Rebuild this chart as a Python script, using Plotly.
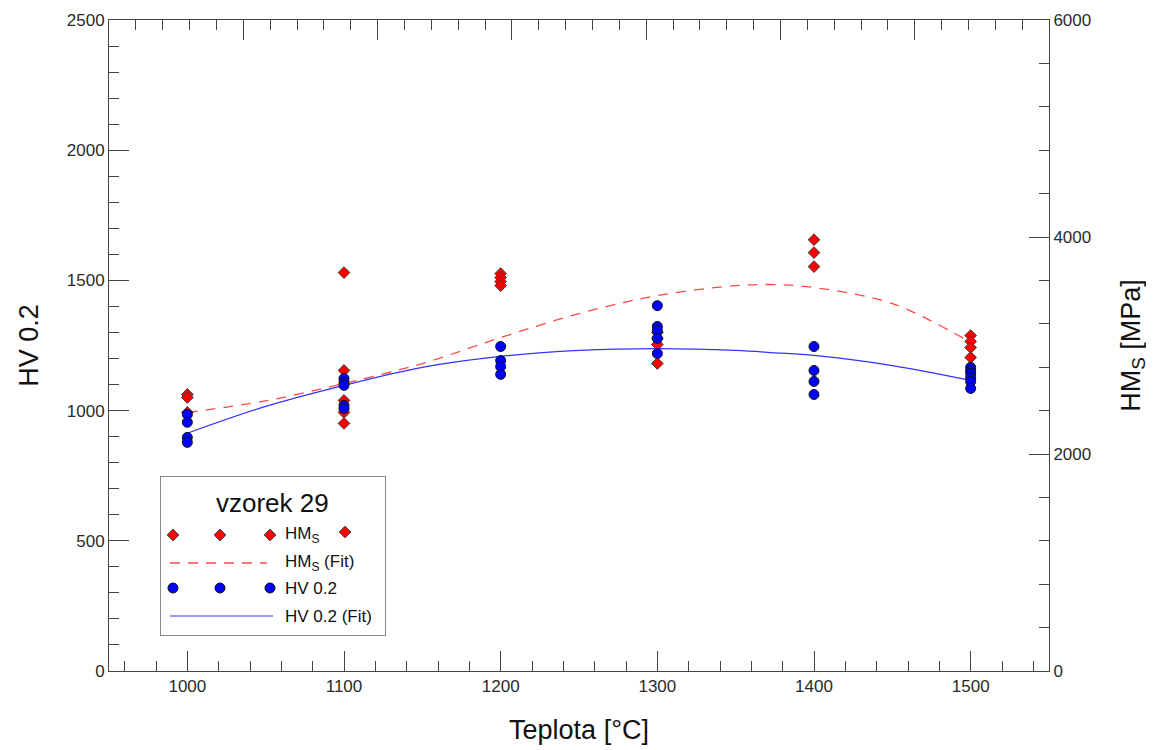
import plotly.graph_objects as go

# HMs measurements [MPa] (right axis)
hms_temp = [1000, 1000, 1000,
            1100, 1100, 1100, 1100, 1100,
            1200, 1200, 1200, 1200,
            1300, 1300, 1300, 1300,
            1400, 1400, 1400,
            1500, 1500, 1500, 1500]
hms_val = [2549, 2521, 2383,
           3672, 2770, 2494, 2383, 2282,
           3662, 3626, 3589, 3552,
           3120, 3064, 3009, 2834,
           3975, 3856, 3727,
           3092, 3037, 2981, 2890]

# HV 0.2 measurements (left axis)
hv_temp = [1000, 1000, 1000, 1000,
           1100, 1100, 1100, 1100, 1100,
           1200, 1200, 1200, 1200,
           1300, 1300, 1300, 1300, 1300,
           1400, 1400, 1400, 1400,
           1500, 1500, 1500, 1500, 1500, 1500]
hv_val = [985, 955, 897, 878,
          1123, 1108, 1097, 1020, 1008,
          1246, 1192, 1169, 1139,
          1403, 1323, 1307, 1277, 1219,
          1246, 1154, 1112, 1062,
          1166, 1154, 1143, 1127, 1112, 1085]

# fitted curves
fit_temp = [1000, 1050, 1100, 1150, 1200, 1250, 1300, 1350, 1375, 1400, 1450, 1500]
hms_fit = [2383, 2490, 2650, 2834, 3073, 3294, 3460, 3552, 3561, 3534, 3386, 3028]
hv_fit = [913, 1016, 1097, 1166, 1208, 1231, 1238, 1231, 1222, 1212, 1173, 1116]

FONT = 'Liberation Sans'
AX = '#444444'
RED = '#FF0000'
BLUE = '#0000FF'

fig = go.Figure()

# HMs on the main (right-side) axis so that HV is drawn above it
fig.add_trace(go.Scatter(x=fit_temp, y=hms_fit, mode='lines', line_shape='spline',
                         line=dict(color='#FF4848', width=1.3, dash='10px,8px'),
                         xaxis='x', yaxis='y', hoverinfo='skip'))
fig.add_trace(go.Scatter(x=hms_temp, y=hms_val, mode='markers',
                         marker=dict(symbol='diamond', size=9, color=RED,
                                     line=dict(color='#3a3a3a', width=1)),
                         xaxis='x', yaxis='y'))
fig.add_trace(go.Scatter(x=fit_temp, y=hv_fit, mode='lines', line_shape='spline',
                         line=dict(color='#3333FF', width=1.2),
                         xaxis='x', yaxis='y2', hoverinfo='skip'))
fig.add_trace(go.Scatter(x=hv_temp, y=hv_val, mode='markers',
                         marker=dict(symbol='circle', size=10, color=BLUE,
                                     line=dict(color='#111111', width=1)),
                         xaxis='x', yaxis='y2'))
# empty trace so the top tick axis is drawn
fig.add_trace(go.Scatter(x=[], y=[], xaxis='x2', yaxis='y', hoverinfo='skip'))

# hand-made legend in its own little axis (pixel-like coordinates)
fig.add_trace(go.Scatter(x=[173, 220, 270, 345], y=[535, 535, 535, 532], mode='markers',
                         marker=dict(symbol='diamond', size=9, color=RED,
                                     line=dict(color='#3a3a3a', width=1)),
                         xaxis='x3', yaxis='y3', hoverinfo='skip'))
fig.add_trace(go.Scatter(x=[170, 267], y=[563, 563], mode='lines',
                         line=dict(color='#FF4848', width=1.3, dash='10px,8px'),
                         xaxis='x3', yaxis='y3', hoverinfo='skip'))
fig.add_trace(go.Scatter(x=[173, 220, 270], y=[588, 588, 588], mode='markers',
                         marker=dict(symbol='circle', size=10, color=BLUE,
                                     line=dict(color='#111111', width=1)),
                         xaxis='x3', yaxis='y3', hoverinfo='skip'))
fig.add_trace(go.Scatter(x=[170, 273], y=[616, 616], mode='lines',
                         line=dict(color='#3333FF', width=1.2),
                         xaxis='x3', yaxis='y3', hoverinfo='skip'))

legend_texts = [('HM<sub>S</sub>', 535), ('HM<sub>S</sub> (Fit)', 563),
                ('HV 0.2', 588), ('HV 0.2 (Fit)', 616)]
annotations = [dict(text='vzorek 29', x=272, y=503, xref='x3', yref='y3',
                    showarrow=False, font=dict(family=FONT, size=26, color='#111'))]
for txt, yy in legend_texts:
    annotations.append(dict(text=txt, x=283, y=yy, xref='x3', yref='y3', xanchor='left',
                            showarrow=False, font=dict(family=FONT, size=17, color='#111')))

tick_font = dict(family=FONT, size=17, color='#2a2a2a')
title_font = dict(family=FONT, size=27, color='#111')

# the page puts the figure 8px in from the corner, so it is 8px smaller here
fig.update_layout(
    width=1146, height=742,
    margin=dict(l=101, r=105, t=12, b=79, autoexpand=False),
    plot_bgcolor='white', paper_bgcolor='white',
    showlegend=False,
    font=dict(family=FONT),
    xaxis=dict(
        range=[950, 1550], tick0=1000, dtick=100, automargin=False,
        ticks='inside', ticklen=20, tickcolor=AX, tickwidth=1,
        minor=dict(dtick=20, tick0=960, ticks='inside', ticklen=10, tickcolor=AX, tickwidth=1),
        showline=True, linecolor=AX, linewidth=1, showgrid=False, zeroline=False,
        tickfont=tick_font,
        title=dict(text='Teplota [°C]', font=title_font, standoff=24),
    ),
    xaxis2=dict(
        overlaying='x', side='top', anchor='y', range=[0, 7], dtick=1, automargin=False,
        ticks='inside', ticklen=20, tickcolor=AX, tickwidth=1,
        minor=dict(dtick=0.2, ticks='inside', ticklen=10, tickcolor=AX, tickwidth=1),
        showticklabels=False, showline=True, linecolor=AX, linewidth=1,
        showgrid=False, zeroline=False,
    ),
    yaxis=dict(
        range=[0, 6000], dtick=2000, side='right', automargin=False,
        ticks='inside', ticklen=20, tickcolor=AX, tickwidth=1,
        minor=dict(dtick=400, ticks='inside', ticklen=10, tickcolor=AX, tickwidth=1),
        showline=True, linecolor=AX, linewidth=1, showgrid=False, zeroline=False,
        tickfont=tick_font,
        title=dict(text='HM<sub>S</sub> [MPa]', font=title_font, standoff=30),
    ),
    yaxis2=dict(
        overlaying='y', side='left', range=[0, 2500], dtick=500, automargin=False,
        ticks='inside', ticklen=20, tickcolor=AX, tickwidth=1,
        minor=dict(dtick=100, ticks='inside', ticklen=10, tickcolor=AX, tickwidth=1),
        showline=True, linecolor=AX, linewidth=1, showgrid=False, zeroline=False,
        tickfont=tick_font,
        title=dict(text='HV 0.2', font=title_font, standoff=20),
    ),
    xaxis3=dict(domain=[51 / 940, 277 / 940], range=[160, 386], anchor='y3',
                visible=False, fixedrange=True),
    yaxis3=dict(domain=[35 / 651, 195 / 651], range=[636, 476], anchor='x3',
                visible=False, fixedrange=True),
    shapes=[dict(type='rect', xref='x3', yref='y3', x0=160, x1=386, y0=476, y1=636,
                 line=dict(color='#666666', width=1.5), fillcolor='white', layer='below')],
    annotations=annotations,
)

fig.write_html("out.html")
